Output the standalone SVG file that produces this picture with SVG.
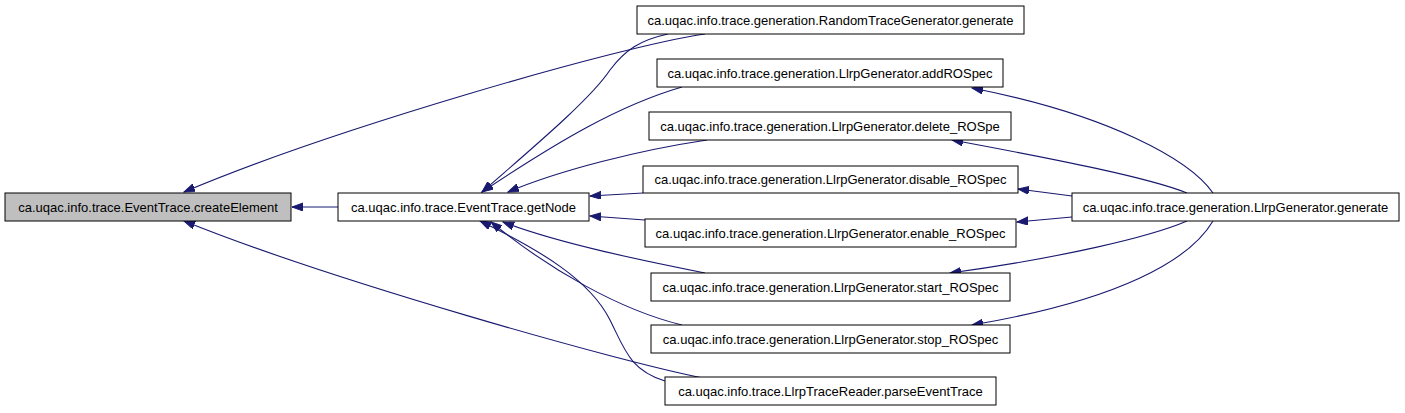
<svg xmlns="http://www.w3.org/2000/svg" width="1405" height="413" viewBox="0 0 1405 413">
<style>
.n rect{fill:#ffffff;stroke:#000000;stroke-width:1}
.n text{font-family:"Liberation Sans",Arial,sans-serif;font-size:13px;fill:#000000;text-anchor:middle}
.cur rect{fill:#bfbfbf}
.e path{fill:none;stroke:#191970;stroke-width:1.1;marker-end:url(#ah)}
</style>
<defs>
<marker id="ah" markerUnits="userSpaceOnUse" markerWidth="12" markerHeight="10" refX="11" refY="4" orient="auto">
<path d="M0,0 L11,4 L0,8 z" fill="#191970" stroke="#191970" stroke-width="1"/>
</marker>
</defs>
<rect width="1405" height="413" fill="#ffffff"/>
<g id="connectors" class="e">
<path d="M338,207 L292,207"/>
<path d="M705,34 C620,46 330,130 184,192"/>
<path d="M703,378 C620,362 330,280 184,221"/>
<path d="M668,34 C640,40 625,50 610,70 C590,100 530,150 482,192"/>
<path d="M682,87 C620,105 560,140 482,192"/>
<path d="M707,140 C640,150 560,170 508,192"/>
<path d="M643,193 L590,196"/>
<path d="M645,220 L590,216"/>
<path d="M705,273 C650,262 560,244 503,222"/>
<path d="M682,325 C620,310 550,270 491,222"/>
<path d="M665,381 C630,370 625,350 610,320 C590,280 540,250 480,221"/>
<path d="M1213,193 C1190,160 1110,115 972,88"/>
<path d="M1187,193 C1150,178 1060,160 952,140"/>
<path d="M1072,196 L1018,189"/>
<path d="M1072,217 L1017,222"/>
<path d="M1187,221 C1150,237 1060,258 950,273"/>
<path d="M1213,221 C1190,260 1120,300 972,325"/>
</g>
<g id="createElement" class="n cur"><rect x="5" y="193" width="286" height="28"/><text x="148" y="211.5">ca.uqac.info.trace.EventTrace.createElement</text></g>
<g id="getNode" class="n"><rect x="338" y="193" width="251" height="28"/><text x="463.5" y="211.5">ca.uqac.info.trace.EventTrace.getNode</text></g>
<g id="randomGenerate" class="n"><rect x="637" y="6" width="387" height="28"/><text x="830.5" y="24.5">ca.uqac.info.trace.generation.RandomTraceGenerator.generate</text></g>
<g id="addROSpec" class="n"><rect x="657" y="59" width="346" height="28"/><text x="830" y="77.5">ca.uqac.info.trace.generation.LlrpGenerator.addROSpec</text></g>
<g id="deleteROSpe" class="n"><rect x="649" y="112" width="362" height="28"/><text x="830" y="130.5">ca.uqac.info.trace.generation.LlrpGenerator.delete_ROSpe</text></g>
<g id="disableROSpec" class="n"><rect x="643" y="166" width="375" height="27"/><text x="830.5" y="184">ca.uqac.info.trace.generation.LlrpGenerator.disable_ROSpec</text></g>
<g id="enableROSpec" class="n"><rect x="645" y="219" width="371" height="28"/><text x="830.5" y="237.5">ca.uqac.info.trace.generation.LlrpGenerator.enable_ROSpec</text></g>
<g id="startROSpec" class="n"><rect x="651" y="273" width="359" height="28"/><text x="830.5" y="291.5">ca.uqac.info.trace.generation.LlrpGenerator.start_ROSpec</text></g>
<g id="stopROSpec" class="n"><rect x="651" y="325" width="359" height="28"/><text x="830.5" y="343.5">ca.uqac.info.trace.generation.LlrpGenerator.stop_ROSpec</text></g>
<g id="parseEventTrace" class="n"><rect x="665" y="377" width="331" height="28"/><text x="830.5" y="395.5">ca.uqac.info.trace.LlrpTraceReader.parseEventTrace</text></g>
<g id="llrpGenerate" class="n"><rect x="1072" y="193" width="327" height="28"/><text x="1235.5" y="211.5">ca.uqac.info.trace.generation.LlrpGenerator.generate</text></g>
</svg>
